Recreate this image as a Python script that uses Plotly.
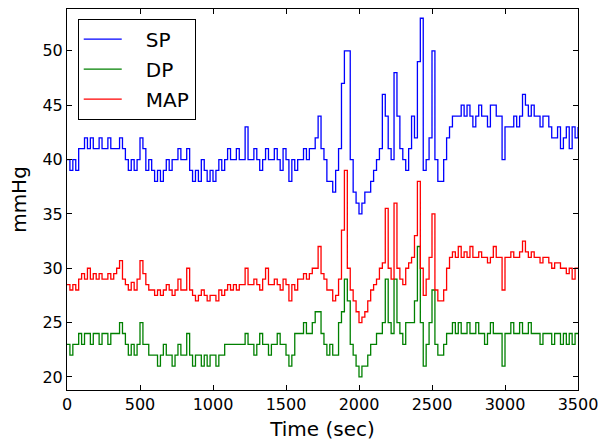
import plotly.graph_objects as go

step = 20
time = list(range(0, 3501, step))

sp = [
    40,39,40,39,41,41,42,41,42,41,
    41,42,41,41,42,41,41,41,42,41,
    40,39,40,39,40,42,41,39,40,39,
    38,39,38,39,40,39,40,40,41,40,
    40,41,39,38,39,38,40,39,38,39,
    38,39,40,39,40,41,40,40,41,40,
    40,43,40,40,41,40,39,40,41,40,
    40,41,40,39,41,40,38,40,39,40,
    40,41,40,41,41,42,44,41,40,38,
    38,37,39,41,47,50,50,40,37,36,
    35,36,37,37,38,39,40,41,46,44,
    41,40,48,44,41,40,39,41,44,42,
    49,53,39,40,42,50,40,38,38,40,
    42,43,44,44,44,45,44,45,44,43,
    44,45,44,44,43,45,45,44,44,40,
    43,43,43,44,43,44,46,45,44,45,
    44,44,43,44,44,43,42,42,43,41,
    42,43,41,43,42,43,
]

dp = [
    23,22,23,23,24,23,24,24,23,24,
    24,23,24,24,23,24,24,24,25,24,
    23,22,23,22,23,25,23,23,22,22,
    22,21,22,23,22,22,21,22,23,22,
    22,24,22,21,22,22,21,22,21,22,
    22,21,22,22,23,23,23,23,23,23,
    23,24,23,23,22,23,24,23,23,22,
    23,23,24,23,23,22,21,22,24,24,
    24,25,24,24,25,26,26,24,23,22,
    23,22,22,25,26,29,27,23,22,21,
    20,21,21,22,23,23,24,24,25,29,
    25,24,29,25,24,23,25,25,25,27,
    32,25,21,23,25,28,23,22,22,23,
    24,24,25,24,25,24,24,25,24,24,
    25,24,24,23,24,25,24,24,24,21,
    24,24,25,24,24,25,24,24,25,24,
    24,24,23,24,24,24,23,24,24,23,
    24,23,24,23,24,24,
]

map_ = [
    28.5,28,28.5,28,29,29.5,29,30,29,29.5,
    29,29.5,29,29,29.5,29,29.5,30,30.7,29,
    28.5,28,28.7,28,29,30.7,29.5,28.5,28,28,
    27.5,28,27.5,28,28.5,28,27.5,28,29,28,
    28,30,28,27.5,27,27.5,28,27.5,27,27.5,
    27.5,27,28,27.5,28,28.5,28,28.5,28,28.5,
    28.5,30,28.5,28.5,29,28.5,28,29,30,28.5,
    28.5,29,28.5,28,29,28.5,27,28.5,28,29,
    29,29.5,29,29.5,30,30,32,29.5,29,28,
    28,27,27.5,29,33.5,39,30,28,27,26,
    25,25.5,26,27,28,28.5,29,30,30.5,35.5,
    30,29,36,30,29,28.5,30,30.5,31,33,
    38,30,27.5,29,31,35,28,27,27,28,
    30,31,31.5,31,32,31,31.5,31,32,31,
    31,31.5,31,31,30.5,31,32,31,31,28,
    31,31,31.5,31,31,31.5,32.5,31.5,31,31.5,
    31,31,30.5,31,31,30.5,30,30.5,30.5,30,
    30,29.5,30,29,30,30,
]

series = [("SP", sp, "#0000ff"), ("DP", dp, "#008000"), ("MAP", map_, "#ff0000")]

pad = "\u00a0\u00a0\u00a0"
fig = go.Figure()
for i, (name, vals, col) in enumerate(series):
    fig.add_trace(go.Scatter(
        x=time, y=vals, name=pad + name, mode="lines", line_shape="hv",
        line=dict(color=col, width=1.3), legendgroup=str(i),
    ))

axis_common = dict(
    showgrid=False, zeroline=False, showline=True, linecolor="black", linewidth=1,
    mirror="ticks", ticks="inside", ticklen=5, tickcolor="black",
    tickfont=dict(family="DejaVu Sans", size=16, color="black"),
)
fig.update_xaxes(range=[0, 3500], tickvals=list(range(0, 3501, 500)),
                 title=dict(text="Time (sec)", font=dict(family="DejaVu Sans", size=20, color="black"), standoff=8),
                 **axis_common)
fig.update_yaxes(range=[18.8, 53.85], tickvals=[20, 25, 30, 35, 40, 45, 50],
                 title=dict(text="mmHg", font=dict(family="DejaVu Sans", size=20, color="black"), standoff=10),
                 **axis_common)

fig.update_layout(
    width=606, height=446,
    margin=dict(l=67, r=23, t=8, b=56),
    paper_bgcolor="white", plot_bgcolor="white",
    showlegend=True,
    legend=dict(
        x=0.021, y=0.975, xanchor="left", yanchor="top",
        bgcolor="white", bordercolor="black", borderwidth=1,
        font=dict(family="DejaVu Sans", size=20, color="black"),
        tracegroupgap=1, traceorder="grouped", itemwidth=38,
    ),
)

fig.write_html("out.html")
